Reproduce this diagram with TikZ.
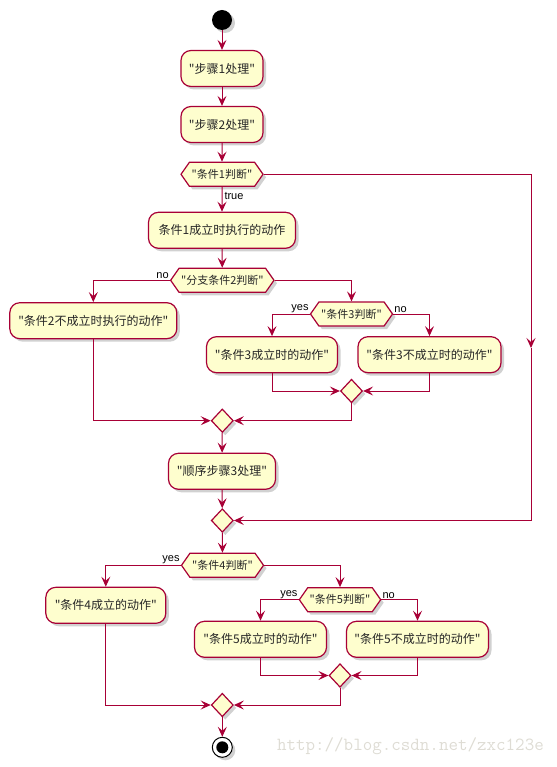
\documentclass[tikz,border=0pt]{standalone}
\usepackage{fontspec}
\newfontfamily\cjk{Noto Sans CJK SC}
\newfontfamily\labfont{Liberation Sans}
\usetikzlibrary{arrows.meta,shapes.symbols,shapes.geometric,shadows}
\definecolor{pred}{HTML}{A80036}
\definecolor{pyel}{HTML}{FEFECE}
\definecolor{wmark}{RGB}{222,220,212}
\tikzset{
  x=1pt,y=-1pt,
  shd/.style={drop shadow={shadow xshift=3pt,shadow yshift=-3pt,opacity=0.3,fill=black!60}},
  act/.style={draw=pred,fill=pyel,line width=1.2pt,rounded corners=10pt,minimum height=36pt,inner xsep=8pt,inner ysep=0pt,font=\cjk\fontsize{12}{14}\selectfont,text=black!85,shd},
  hexa/.style={signal,signal to=east and west,signal pointer angle=110,draw=pred,fill=pyel,line width=1.2pt,minimum height=24pt,inner xsep=2pt,inner ysep=0pt,font=\cjk\fontsize{11}{13}\selectfont,text=black!85,shd},
  merge/.style={diamond,draw=pred,fill=pyel,line width=1.2pt,minimum width=22pt,minimum height=23.5pt,inner sep=0pt,shd},
  conn/.style={draw=pred,line width=1pt},
  arr/.style={conn,-{Stealth[length=10pt,width=9pt,inset=4pt]}},
  lab/.style={font=\labfont\fontsize{11}{12}\selectfont,inner sep=1pt,text=black}
}
\begin{document}
\begin{tikzpicture}
\useasboundingbox (0,0) rectangle (556,767);
% nodes
\node[circle,fill=black,minimum size=20pt,inner sep=0pt,shd] (start) at (222,20) {};
\node[act,minimum width=82pt] (b1) at (222,68.5) {"步骤1处理"};
\node[act,minimum width=82pt] (b2) at (222,124.5) {"步骤2处理"};
\node[hexa,minimum width=82pt] (h1) at (222,174.3) {"条件1判断"};
\node[act,minimum width=147pt] (b3) at (222,230.3) {条件1成立时执行的动作};
\node[hexa,minimum width=103pt] (h2) at (222.3,280.3) {"分支条件2判断"};
\node[act,minimum width=167pt] (b4) at (93.3,320.7) {"条件2不成立时执行的动作"};
\node[hexa,minimum width=82pt] (h3) at (351.5,314) {"条件3判断"};
\node[act,minimum width=131pt] (b5) at (272,354.7) {"条件3成立时的动作"};
\node[act,minimum width=143pt] (b6) at (429.5,354.7) {"条件3不成立时的动作"};
\node[merge] (m3) at (351.5,391) {};
\node[merge] (m2) at (222.3,420.7) {};
\node[act,minimum width=107pt] (b7) at (222,471.3) {"顺序步骤3处理"};
\node[merge] (m4) at (222.3,520.5) {};
\node[hexa,minimum width=82pt] (h4) at (222.5,565.3) {"条件4判断"};
\node[act,minimum width=120pt] (b8) at (105.8,605.3) {"条件4成立的动作"};
\node[hexa,minimum width=81pt] (h5) at (340,599.7) {"条件5判断"};
\node[act,minimum width=132pt] (b9) at (260.5,639.3) {"条件5成立时的动作"};
\node[act,minimum width=142pt] (b10) at (417.5,639.3) {"条件5不成立时的动作"};
\node[merge] (m5) at (340,675.5) {};
\node[merge] (m6) at (222.3,705) {};
\node[circle,draw=black,line width=1pt,fill=white,minimum size=20pt,inner sep=0pt,shd] (end) at (222.3,747.3) {};
\node[circle,fill=black,minimum size=12pt,inner sep=0pt] (endin) at (end) {};
\coordinate (rx) at (531,348);
% connectors
\draw[arr] (start) -- (b1);
\draw[arr] (b1) -- (b2);
\draw[arr] (b2) -- (h1);
\draw[arr] (h1) -- node[lab,anchor=west,pos=0.35,xshift=1pt] (ltrue) {true} (b3);
\draw[arr] (b3) -- (h2);
\draw[arr] (h2.west) -| (b4);
\draw[arr] (h2.east) -| (h3);
\draw[arr] (h3.west) -| (b5);
\draw[arr] (h3.east) -| (b6);
\draw[arr] (b5) |- (m3);
\draw[arr] (b6) |- (m3);
\draw[arr] (b4) |- (m2);
\draw[arr] (m3) |- (m2);
\draw[arr] (m2) -- (b7);
\draw[arr] (b7) -- (m4);
\draw[arr] (h1.east) -| (rx);
\draw[arr] (rx) |- (m4);
\draw[arr] (m4) -- (h4);
\draw[arr] (h4.west) -| (b8);
\draw[arr] (h4.east) -| (h5);
\draw[arr] (h5.west) -| (b9);
\draw[arr] (h5.east) -| (b10);
\draw[arr] (b9) |- (m5);
\draw[arr] (b10) |- (m5);
\draw[arr] (b8) |- (m6);
\draw[arr] (m5) |- (m6);
\draw[arr] (m6) -- (end);
% branch labels
\node[lab,anchor=south east] (lno2) at (h2.west) {no};
\node[lab,anchor=south east] (lyes3) at (h3.west) {yes};
\node[lab,anchor=south west] (lno3) at (h3.east) {no};
\node[lab,anchor=south east] (lyes4) at (h4.west) {yes};
\node[lab,anchor=south east] (lyes5) at (h5.west) {yes};
\node[lab,anchor=south west] (lno5) at (h5.east) {no};
% watermark
\node[font=\ttfamily\fontsize{18.5}{20}\selectfont,text=wmark,anchor=east,inner sep=0pt] (wm) at (544,746.5) {http://blog.csdn.net/zxc123e};
\end{tikzpicture}
\end{document}
